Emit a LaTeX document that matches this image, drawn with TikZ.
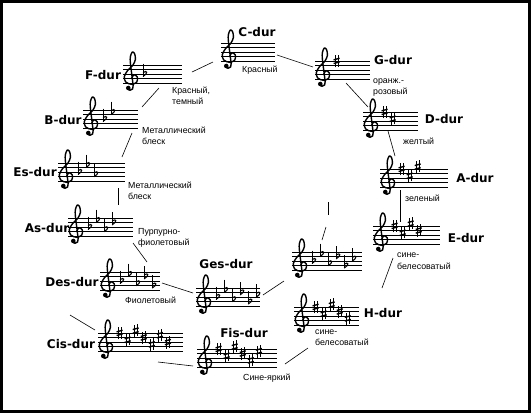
\documentclass[tikz,border=0pt]{standalone}
\usepackage{fontspec}
\setmainfont{Liberation Sans}
\newfontfamily\labfont{DejaVu Sans}
\tikzset{
  staffline/.style={line width=0.85pt},
  clefline/.style={line width=1.4pt, line cap=round, line join=round},
  conn/.style={line width=0.6pt},
  keylab/.style={font=\labfont\bfseries\fontsize{12}{12}\selectfont, inner sep=0pt},
  colour/.style={font=\fontsize{8.8}{10}\selectfont, inner sep=0pt, anchor=west},
}
\newcommand\Sharp[2]{%
  \draw[line width=0.6pt] ({#1-0.3},{#2-1.4}) -- ({#1-0.3},{#2+1.2});
  \draw[line width=0.6pt] ({#1+0.3},{#2-1.2}) -- ({#1+0.3},{#2+1.4});
  \draw[line width=1.4pt] ({#1-0.65},{#2-0.55}) -- ({#1+0.65},{#2-0.2});
  \draw[line width=1.4pt] ({#1-0.65},{#2+0.25}) -- ({#1+0.65},{#2+0.6});
}
\newcommand\Flat[2]{%
  \draw[line width=0.7pt] ({#1-0.35},{#2+2.3}) -- ({#1-0.35},{#2-0.5});
  \draw[line width=1.1pt] ({#1-0.35},{#2-0.5}) .. controls ({#1+0.8},{#2+0.2}) and ({#1+0.6},{#2+1.0}) .. ({#1-0.35},{#2+0.35});
}
\newcommand\Clef{%
  \draw[clefline] plot[smooth, tension=0.55] coordinates {(1.9,1.2) (2.4,1.9) (3.1,1.4) (3.0,0.3) (1.9,-0.2) (0.6,0.3) (0.3,1.5) (1.0,2.8) (2.1,3.9) (2.7,5.2) (2.5,6.5) (2.0,6.8) (1.6,5.8) (1.6,4.5) (1.9,2.0) (2.2,-0.5) (2.1,-1.2) (1.5,-1.5) (1.1,-1.2)};
  \fill (1.15,-1.0) circle (0.5);
}
\newcommand\Stave[5]{%
  \begin{scope}[shift={(#1,#2+18.4)}, x=4.6pt, y=4.6pt]
    \foreach \i in {0,...,4} \draw[staffline] (0,\i) -- ({#3/4.6},\i);
    \Clef
    \ifx\relax#5\relax\else
      \foreach \p [count=\k] in {#5} {\pgfmathsetmacro\ax{4.7+(\k-1)*1.75}#4{\ax}{\p}}
    \fi
  \end{scope}}
\begin{document}
\begin{tikzpicture}[x=1pt, y=-1pt]
\useasboundingbox (0,0) rectangle (531,413);
\fill[white] (0,0) rectangle (531,413);
\draw[line width=3pt] (1.5,1.5) rectangle (529.5,411.5);

% staves
\Stave{221}{43}{54}{\Sharp}{}
\Stave{315}{61}{55}{\Sharp}{4}
\Stave{363}{112}{55}{\Sharp}{4,2.5}
\Stave{380}{169}{68}{\Sharp}{4,2.5,4.5}
\Stave{373}{226}{67}{\Sharp}{4,2.5,4.5,3}
\Stave{294}{307}{65}{\Sharp}{4,2.5,4.5,3,1.5}
\Stave{197}{349}{80}{\Sharp}{4,2.5,4.5,3,1.5,3.5}
\Stave{98}{333}{85}{\Sharp}{4,2.5,4.5,3,1.5,3.5,2}
\Stave{292}{252}{70}{\Flat}{2,3.5,1.5,3,1,2.5}
\Stave{196}{288}{64}{\Flat}{2,3.5,1.5,3,1,2.5}
\Stave{100}{272}{60}{\Flat}{2,3.5,1.5,3,1}
\Stave{68}{218}{65}{\Flat}{2,3.5,1.5,3}
\Stave{58}{163}{67}{\Flat}{2,3.5,1.5}
\Stave{83}{110}{55}{\Flat}{2,3.5}
\Stave{123}{65}{59}{\Flat}{2}

% key labels
\node[keylab] (lC) at (257,32) {C-dur};
\node[keylab] (lG) at (393,60) {G-dur};
\node[keylab] (lD) at (444,119) {D-dur};
\node[keylab] (lA) at (475,178) {A-dur};
\node[keylab] (lE) at (466,238) {E-dur};
\node[keylab] (lH) at (383,313) {H-dur};
\node[keylab] (lFis) at (244,333) {Fis-dur};
\node[keylab] (lCis) at (71,344) {Cis-dur};
\node[keylab] (lDes) at (72,282) {Des-dur};
\node[keylab] (lGes) at (226,264) {Ges-dur};
\node[keylab] (lAs) at (47,228) {As-dur};
\node[keylab] (lEs) at (35,172) {Es-dur};
\node[keylab] (lB) at (63,120) {B-dur};
\node[keylab] (lF) at (103,75) {F-dur};

% colour labels
\node[colour] (cC) at (242,70) {Красный};
\node[colour] (cG1) at (373,82) {оранж.-};
\node[colour] (cG2) at (373,92) {розовый};
\node[colour] (cD) at (403,141) {желтый};
\node[colour] (cA) at (405,198) {зеленый};
\node[colour] (cE1) at (397,255) {сине-};
\node[colour] (cE2) at (397,266) {белесоватый};
\node[colour] (cH1) at (315,332) {сине-};
\node[colour] (cH2) at (315,342) {белесоватый};
\node[colour] (cFis) at (243,378) {Сине-яркий};
\node[colour] (cDes) at (125,300) {Фиолетовый};
\node[colour] (cAs1) at (138,232) {Пурпурно-};
\node[colour] (cAs2) at (138,243) {фиолетовый};
\node[colour] (cEs1) at (128,185) {Металлический};
\node[colour] (cEs2) at (128,196) {блеск};
\node[colour] (cB1) at (142,130) {Металлический};
\node[colour] (cB2) at (142,141) {блеск};
\node[colour] (cF1) at (172,91) {Красный,};
\node[colour] (cF2) at (172,101) {темный};

% connector ends
\coordinate (fc1) at (192,72);  \coordinate (fc2) at (213,62);
\coordinate (cg1) at (277,55);  \coordinate (cg2) at (313,67);
\coordinate (gd1) at (346,83);  \coordinate (gd2) at (368,107);
\coordinate (da1) at (388,131); \coordinate (da2) at (395,156);
\coordinate (ae1) at (400,190); \coordinate (ae2) at (400,222);
\coordinate (eh1) at (393,258); \coordinate (eh2) at (382,288);
\coordinate (hf1) at (308,348); \coordinate (hf2) at (285,364);
\coordinate (fc3) at (158,362); \coordinate (fc4) at (193,366);
\coordinate (cd1) at (70,315);  \coordinate (cd2) at (95,330);
\coordinate (dg1) at (162,283); \coordinate (dg2) at (193,293);
\coordinate (gx1) at (263,295); \coordinate (gx2) at (284,281);
\coordinate (xa1) at (328,202); \coordinate (xa2) at (328,215);
\coordinate (xb1) at (326,227); \coordinate (xb2) at (322,240);
\coordinate (ad1) at (133,243); \coordinate (ad2) at (147,262);
\coordinate (ea1) at (118,188); \coordinate (ea2) at (118,205);
\coordinate (be1) at (132,133); \coordinate (be2) at (122,157);
\coordinate (fb1) at (159,88);  \coordinate (fb2) at (142,107);

\draw[conn] (fc1) -- (fc2);
\draw[conn] (cg1) -- (cg2);
\draw[conn] (gd1) -- (gd2);
\draw[conn] (da1) -- (da2);
\draw[conn] (ae1) -- (ae2);
\draw[conn] (eh1) -- (eh2);
\draw[conn] (hf1) -- (hf2);
\draw[conn] (fc3) -- (fc4);
\draw[conn] (cd1) -- (cd2);
\draw[conn] (dg1) -- (dg2);
\draw[conn] (gx1) -- (gx2);
\draw[conn] (xa1) -- (xa2);
\draw[conn] (xb1) -- (xb2);
\draw[conn] (ad1) -- (ad2);
\draw[conn] (ea1) -- (ea2);
\draw[conn] (be1) -- (be2);
\draw[conn] (fb1) -- (fb2);
\end{tikzpicture}
\end{document}
